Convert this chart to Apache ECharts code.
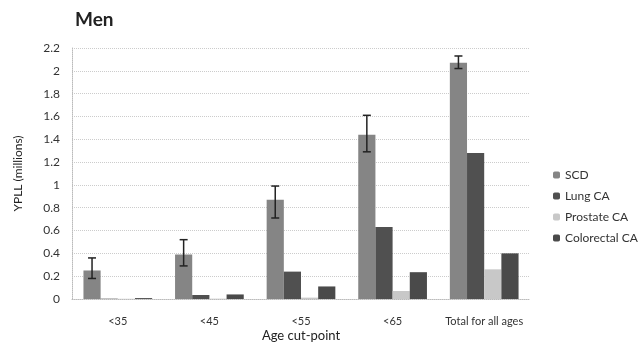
<!DOCTYPE html>
<html><head><meta charset="utf-8">
<script src="https://cdn.jsdelivr.net/npm/echarts@6/dist/echarts.min.js"></script>
<style>html,body{margin:0;padding:0;background:#fff}#c{width:643px;height:344px}</style>
</head><body><div id="c"></div>
<script>
const categories = ['<35', '<45', '<55', '<65', 'Total for all ages'];
const scd = [0.25, 0.39, 0.87, 1.44, 2.07];
const scdLow = [0.18, 0.29, 0.71, 1.29, 2.02];
const scdHigh = [0.36, 0.52, 0.99, 1.61, 2.13];
const lung = [0.003, 0.035, 0.24, 0.63, 1.28];
const prostate = [0.002, 0.003, 0.012, 0.07, 0.26];
const colorectal = [0.008, 0.04, 0.11, 0.235, 0.40];
const yTicks = ['0','0.2','0.4','0.6','0.8','1','1.2','1.4','1.6','1.8','2','2.2'];

const font = 'Lato, "Open Sans", sans-serif';
const chart = echarts.init(document.getElementById('c'));
const errData = categories.map((c, i) => [i, scdLow[i], scdHigh[i]]);
chart.setOption({
  animation: false,
  title: { text: 'Men', left: 70, top: 5, textStyle: { fontFamily: font, fontWeight: 'bold', fontSize: 19, color: '#222' } },
  grid: { left: 72, right: 113, top: 48, bottom: 45, outerBoundsMode: 'none', containLabel: false },
  legend: {
    orient: 'vertical', left: 548, top: 164, itemWidth: 7, itemHeight: 7, itemGap: 9,
    textStyle: { fontFamily: font, fontSize: 12, color: '#333' },
    data: ['SCD', 'Lung CA', 'Prostate CA', 'Colorectal CA']
  },
  xAxis: {
    type: 'category', data: categories, name: 'Age cut-point', nameLocation: 'middle', nameGap: 30, nameMoveOverlap: false,
    nameTextStyle: { fontFamily: font, fontSize: 13, color: '#222' },
    axisLine: { lineStyle: { color: '#bbb', type: 'dotted' } }, axisTick: { show: false },
    axisLabel: { interval: 0, fontFamily: font, fontSize: 11, color: '#333', margin: 17 }
  },
  yAxis: {
    type: 'value', min: 0, max: 2.2, interval: 0.2, name: 'YPLL (millions)', nameLocation: 'middle', nameGap: 48, nameMoveOverlap: false,
    nameTextStyle: { fontFamily: font, fontSize: 12, color: '#222' },
    axisLine: { show: true, lineStyle: { color: '#bbb', type: 'dotted' } }, axisTick: { show: false },
    axisLabel: { fontFamily: font, fontSize: 12, color: '#333', margin: 12, formatter: v => yTicks[Math.round(v / 0.2)] },
    splitLine: { lineStyle: { color: '#ccc', type: 'dotted' } }
  },
  series: [
    { name: 'SCD', type: 'bar', data: scd, barGap: '0%', barCategoryGap: '25%', itemStyle: { color: '#858585' } },
    { name: 'Lung CA', type: 'bar', data: lung, itemStyle: { color: '#505050' } },
    { name: 'Prostate CA', type: 'bar', data: prostate, itemStyle: { color: '#c8c8c8' } },
    { name: 'Colorectal CA', type: 'bar', data: colorectal, itemStyle: { color: '#4a4a4a' } },
    {
      type: 'custom', data: errData, z: 10,
      renderItem: function (params, api) {
        const x = api.value(0);
        const lo = api.coord([x, api.value(1)]);
        const hi = api.coord([x, api.value(2)]);
        const band = api.size([1, 0])[0];
        const bw = band * 0.75 / 4;
        const cx = lo[0] - band * 0.75 / 2 + bw / 2;
        const cap = 4;
        const style = { stroke: '#222', lineWidth: 1.5 };
        return { type: 'group', children: [
          { type: 'line', shape: { x1: cx, y1: hi[1], x2: cx, y2: lo[1] }, style },
          { type: 'line', shape: { x1: cx - cap, y1: hi[1], x2: cx + cap, y2: hi[1] }, style },
          { type: 'line', shape: { x1: cx - cap, y1: lo[1], x2: cx + cap, y2: lo[1] }, style }
        ] };
      }
    }
  ]
});
</script></body></html>
